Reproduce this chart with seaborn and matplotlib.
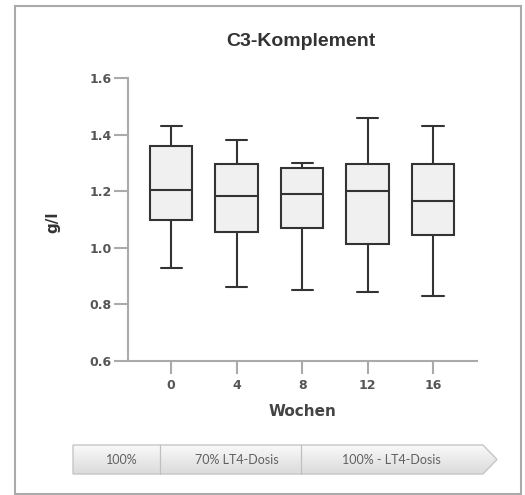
import numpy as np
import pandas as pd
import seaborn as sns
import matplotlib
matplotlib.use("Agg")
import matplotlib.pyplot as plt
from matplotlib.patches import Polygon, Rectangle

# ---- data ----
weeks = ["0", "4", "8", "12", "16"]
whisker_low = [0.93, 0.86, 0.852, 0.845, 0.83]
q1 = [1.097, 1.056, 1.069, 1.013, 1.045]
median = [1.204, 1.184, 1.189, 1.200, 1.164]
q3 = [1.36, 1.297, 1.283, 1.297, 1.297]
whisker_high = [1.43, 1.38, 1.30, 1.46, 1.43]
y_ticks = [0.6, 0.8, 1.0, 1.2, 1.4, 1.6]
phases = ["100%", "70% LT4-Dosis", "100% - LT4-Dosis"]

rows = []
for w, a, b, c, d, e in zip(weeks, whisker_low, q1, median, q3, whisker_high):
    for v in (a, b, c, d, e):
        rows.append({"Wochen": w, "g/l": v})
df = pd.DataFrame(rows)

sns.set_style("ticks")
plt.rcParams["font.family"] = ["DejaVu Sans"]

W, H = 525, 495
fig = plt.figure(figsize=(W / 100, H / 100), dpi=100)

# overlay axes in pixel coordinates (border + phase banner)
ov = fig.add_axes([0, 0, 1, 1], zorder=0)
ov.set_xlim(0, W)
ov.set_ylim(H, 0)
ov.axis("off")
ov.add_patch(Rectangle((15, 6), 506, 488, fill=False, edgecolor="#aaaaaa", lw=1.5))

poly_pts = [(73, 445), (483, 445), (497, 459.5), (483, 474), (73, 474)]
poly = Polygon(poly_pts, closed=True, facecolor="none", edgecolor="#c6c6c6", lw=1.0, zorder=3)
ov.add_patch(poly)
top_c = np.array([0.975, 0.975, 0.975])
bot_c = np.array([0.86, 0.86, 0.86])
t = np.linspace(0, 1, 64)[:, None, None]
grad = top_c * (1 - t) + bot_c * t
grad = np.repeat(grad, 2, axis=1)
im = ov.imshow(grad, extent=[73, 497, 474, 445], origin="upper", aspect="auto", zorder=2)
im.set_clip_path(poly)
for xd in (160, 301):
    ov.plot([xd, xd], [445, 474], color="#c0c0c0", lw=0.9, zorder=4)
for txt, xc in zip(phases, (121.5, 236.7, 391.7)):
    ov.text(xc, 460, txt, ha="center", va="center", fontsize=9,
            family="Lato", color="#606060", zorder=5)
ov.set_xlim(0, W)
ov.set_ylim(H, 0)

# main chart
ax = fig.add_axes([128 / W, 1 - 361 / H, (477 - 128) / W, (361 - 78) / H], zorder=1)
ax.set_facecolor("none")
sns.boxplot(data=df, x="Wochen", y="g/l", order=weeks, width=0.65, whis=np.inf,
            color="#f0f0f0", linecolor="#333333", linewidth=1.5, saturation=1,
            fliersize=0, ax=ax)
ax.set_xlim(-0.66, 4.67)
ax.set_ylim(0.6, 1.6)
ax.set_yticks(y_ticks)
ax.set_yticklabels([f"{v:.1f}" for v in y_ticks])
sns.despine(ax=ax)
for s in ("left", "bottom"):
    ax.spines[s].set_color("#aaaaaa")
    ax.spines[s].set_linewidth(1.5)
ax.tick_params(axis="y", length=10, width=1.5, color="#aaaaaa", pad=2,
               labelsize=9, labelcolor="#555555")
ax.tick_params(axis="x", length=9, width=1.5, color="#aaaaaa", pad=4,
               labelsize=9, labelcolor="#555555")
for lab in ax.get_xticklabels() + ax.get_yticklabels():
    lab.set_fontweight("bold")

ax.set_xlabel("Wochen", fontsize=11, fontweight="bold", color="#444444")
ax.set_ylabel("g/l", fontsize=11, fontweight="bold", color="#333333")
ax.xaxis.set_label_coords(0.5, (361 - 412) / 283)
ax.xaxis.label.set_verticalalignment("center")
ax.yaxis.set_label_coords((53 - 128) / 349, (361 - 222) / 283)
ax.yaxis.label.set_verticalalignment("center")

fig.text(301 / W, 1 - 42 / H, "C3-Komplement", ha="center", va="center",
         fontsize=14, fontweight="bold", family="Liberation Sans", color="#333333")

fig.savefig("out.png", dpi=100)
